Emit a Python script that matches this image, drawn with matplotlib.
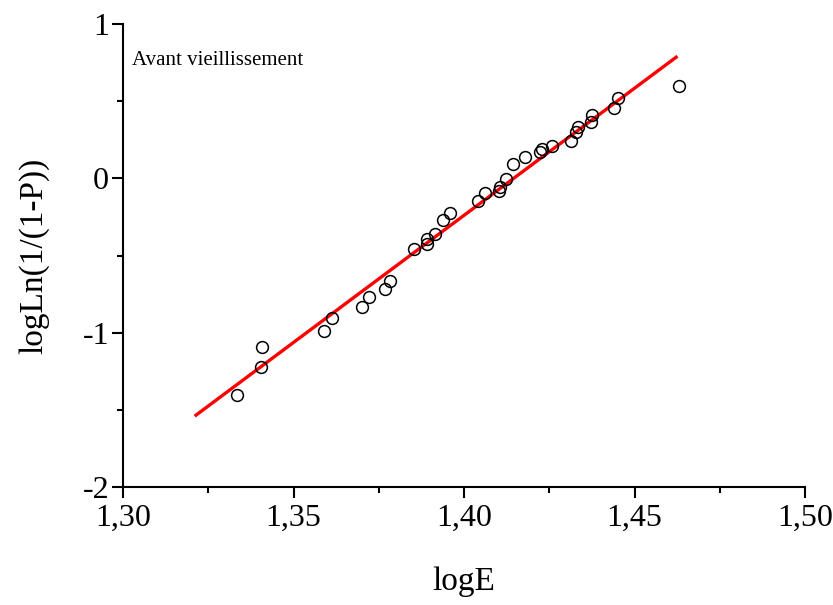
import numpy as np
import matplotlib
matplotlib.use("Agg")
import matplotlib.pyplot as plt
from matplotlib.ticker import MultipleLocator, FuncFormatter

# Données
log_e = [1.3334, 1.3408, 1.3405, 1.3589, 1.3613, 1.3701, 1.3721, 1.3768,
         1.3783, 1.3853, 1.3891, 1.3891, 1.3915, 1.3938, 1.3959, 1.4041,
         1.4062, 1.4103, 1.4106, 1.4123, 1.4144, 1.4179, 1.4223, 1.4229,
         1.4258, 1.4314, 1.4328, 1.4334, 1.4372, 1.4375, 1.4440, 1.4452,
         1.4630]
log_ln = [-1.404, -1.093, -1.223, -0.990, -0.905, -0.834, -0.769, -0.717,
          -0.666, -0.458, -0.426, -0.393, -0.361, -0.270, -0.225, -0.147,
          -0.095, -0.082, -0.056, -0.005, 0.093, 0.138, 0.171, 0.190,
          0.209, 0.242, 0.300, 0.332, 0.365, 0.410, 0.456, 0.520,
          0.598]

# Droite de régression (extrémités)
fit_x = [1.3214, 1.4622]
fit_y = [-1.534, 0.786]

plt.rcParams['font.family'] = ['Liberation Serif', 'DejaVu Serif']

fig = plt.figure(figsize=(8.33, 6.05), dpi=100)
ax = fig.add_axes([0.1477, 0.195, 0.8187, 0.765])

ax.plot(fit_x, fit_y, color='red', lw=2.4, zorder=2)
ax.plot(log_e, log_ln, 'o', mfc='none', mec='black', ms=8.5, mew=1.1, zorder=3)

ax.set_xlim(1.30, 1.50)
ax.set_ylim(-2, 1)

ax.spines['top'].set_visible(False)
ax.spines['right'].set_visible(False)
ax.spines['left'].set_linewidth(1.5)
ax.spines['bottom'].set_linewidth(1.5)

ax.xaxis.set_major_locator(MultipleLocator(0.05))
ax.xaxis.set_minor_locator(MultipleLocator(0.025))
ax.yaxis.set_major_locator(MultipleLocator(1))
ax.yaxis.set_minor_locator(MultipleLocator(0.5))
ax.xaxis.set_major_formatter(FuncFormatter(lambda v, p: f"{v:.2f}".replace('.', ',')))
ax.yaxis.set_major_formatter(FuncFormatter(lambda v, p: f"{v:.0f}"))

ax.tick_params(which='major', direction='out', length=8, width=1.5, labelsize=23, pad=2)
ax.tick_params(which='minor', direction='out', length=4.5, width=1.5)
ax.tick_params(axis='x', which='major', pad=4)

ax.set_xlabel("logE", fontsize=24, labelpad=24)
ax.set_ylabel("logLn(1/(1-P))", fontsize=24, labelpad=24)

ax.text(0.013, 0.911, "Avant vieillissement", transform=ax.transAxes,
        fontsize=15, va='baseline', ha='left')

fig.savefig("out.png", dpi=100)
